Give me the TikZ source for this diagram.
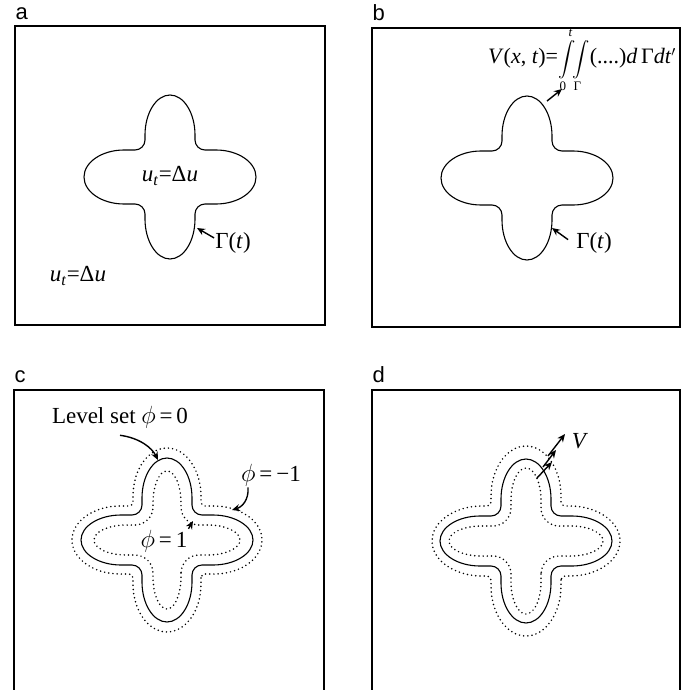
\documentclass[tikz,border=0pt]{standalone}
\usepackage{exscale}
\usepackage{fontspec}
\setmainfont{Liberation Serif}
\newfontfamily\panelsf{Liberation Sans}
\usepackage{tikz}
\usetikzlibrary{arrows.meta, positioning}

\newcommand{\limtxt}[1]{\mbox{\fontsize{13}{13}\selectfont #1}}

% four-armed front: [style] {centre} {arm half-width x} {arm half-width y} {tip x} {tip y} {cap} {fillet}
\newcommand{\crossfront}[8][]{%
  \draw[#1, shift={(#2)}]
    (#3,#4+#8) -- (#3,#6-#7)
    .. controls (#3,#6-0.45*#7) and (0.55*#3,#6) .. (0,#6)
    .. controls (-0.55*#3,#6) and (-#3,#6-0.45*#7) .. (-#3,#6-#7)
    -- (-#3,#4+#8)
    .. controls (-#3,#4+0.45*#8) and (-#3-0.45*#8,#4) .. (-#3-#8,#4)
    -- (-#5+#7,#4)
    .. controls (-#5+0.45*#7,#4) and (-#5,0.55*#4) .. (-#5,0)
    .. controls (-#5,-0.55*#4) and (-#5+0.45*#7,-#4) .. (-#5+#7,-#4)
    -- (-#3-#8,-#4)
    .. controls (-#3-0.45*#8,-#4) and (-#3,-#4-0.45*#8) .. (-#3,-#4-#8)
    -- (-#3,-#6+#7)
    .. controls (-#3,-#6+0.45*#7) and (-0.55*#3,-#6) .. (0,-#6)
    .. controls (0.55*#3,-#6) and (#3,-#6+0.45*#7) .. (#3,-#6+#7)
    -- (#3,-#4-#8)
    .. controls (#3,-#4-0.45*#8) and (#3+0.45*#8,-#4) .. (#3+#8,-#4)
    -- (#5-#7,-#4)
    .. controls (#5-0.45*#7,-#4) and (#5,-0.55*#4) .. (#5,0)
    .. controls (#5,0.55*#4) and (#5-0.45*#7,#4) .. (#5-#7,#4)
    -- (#3+#8,#4)
    .. controls (#3+0.45*#8,#4) and (#3,#4+0.45*#8) .. cycle;}

\begin{document}
\begin{tikzpicture}[
        x=1pt, y=-1pt,
        frame/.style={draw, rectangle, line width=1.1pt, inner sep=0pt},
        front/.style={line width=1.1pt},
        levelset/.style={line width=1.7pt, dash pattern=on 0pt off 4.2pt, line cap=round},
        arrow/.style={-{Stealth[length=8pt,width=7pt]}, line width=1.4pt},
        lbl/.style={inner sep=1pt, font=\fontsize{23}{26}\selectfont},
        panel/.style={inner sep=0pt, anchor=south west, font=\panelsf\fontsize{22}{24}\selectfont}
    ]
        \useasboundingbox (0,0) rectangle (689,690);

        % Frames
        \node[frame, minimum width=310pt, minimum height=299pt] (boxa) at (170,175.5) {};
        \node[frame, minimum width=308pt, minimum height=299pt] (boxb) at (526,177.5) {};
        \node[frame, minimum width=310pt, minimum height=302pt] (boxc) at (169,541) {};
        \node[frame, minimum width=308pt, minimum height=302pt] (boxd) at (526,541) {};

        % Panel letters
        \node[panel, above right=6pt and 1pt of boxa.north west] (pa) {a};
        \node[panel, above right=7pt and 1pt of boxb.north west] (pb) {b};
        \node[panel, above right=7pt and 1pt of boxc.north west] (pc) {c};
        \node[panel, above right=7pt and 1pt of boxd.north west] (pd) {d};

        % Fronts
        \crossfront[front]{170,177}{25}{27}{86}{82}{40}{10}
        \crossfront[front]{527,178}{25}{27}{86}{82}{40}{10}
        \crossfront[front]{167,540}{25}{25}{86}{82}{40}{10}
        \crossfront[levelset]{167,540}{34}{34}{95}{92}{48}{4}
        \crossfront[levelset]{167,540}{14}{15}{73}{69}{32}{18}
        \crossfront[front]{526,541}{25}{25}{86}{82}{40}{10}
        \crossfront[levelset]{526,541}{35}{35}{94}{95}{50}{4}
        \crossfront[levelset]{526,541}{15}{15}{77}{73}{32}{18}

        % Labels
        \node[lbl] (eqin) at (170,176) {\textit{u}\textsubscript{\textit{t}}=Δ\textit{u}};
        \node[lbl] (eqout) at (78,276) {\textit{u}\textsubscript{\textit{t}}=Δ\textit{u}};
        \node[lbl] (gama) at (233,243) {Γ(\textit{t})};
        \node[lbl, font=\fontsize{22}{24}\selectfont] (velb) at (582,60)
            {\textit{V}(\textit{x}, \textit{t})={\fontsize{17}{19}\selectfont$\displaystyle\int\limits_{\limtxt{0}}^{\limtxt{\textit{t}}}\!\!\int\limits_{\limtxt{Γ}}$}(....)\textit{d}\,Γ\textit{dt}$'$};
        \node[lbl] (gamb) at (594,243) {Γ(\textit{t})};
        \node[lbl] (lvl) at (120,417) {Level set $\phi$\,=\,0};
        \node[lbl] (phim) at (271,475) {$\phi$\,=\,−1};
        \node[lbl] (phip) at (164,541) {$\phi$\,=\,1};
        \node[lbl] (veld) at (580,441) {\textit{V}};

        % Points on the fronts
        \coordinate (pta) at (197,228);
        \coordinate (srcb) at (547,101);
        \coordinate (tipb) at (562,89);
        \coordinate (ptb) at (552,228);
        \coordinate (tipc) at (158,460);
        \coordinate (tipm) at (232,510);
        \coordinate (tipp) at (193,521);
        \coordinate (vin) at (537,478);
        \coordinate (vin2) at (552,462);
        \coordinate (vmid) at (543,467);
        \coordinate (vmid2) at (556,450);
        \coordinate (vout) at (548,456);
        \coordinate (vout2) at (565,434);

        % Arrows
        \draw[arrow] (gama.165) -- (pta);
        \draw[arrow] (srcb) -- (tipb);
        \draw[arrow] ([xshift=-7pt]gamb.170) -- (ptb);
        \draw[arrow] ([yshift=-6pt]lvl.south) .. controls (140,438) and (152,448) .. (tipc);
        \draw[arrow] ([xshift=8pt]phim.south west) .. controls (249,500) and (242,507) .. (tipm);
        \draw[arrow] (phip.north east) -- (tipp);
        \draw[arrow] (vin) -- (vin2);
        \draw[arrow] (vmid) -- (vmid2);
        \draw[arrow] (vout) -- (vout2);
    \end{tikzpicture}
\end{document}
